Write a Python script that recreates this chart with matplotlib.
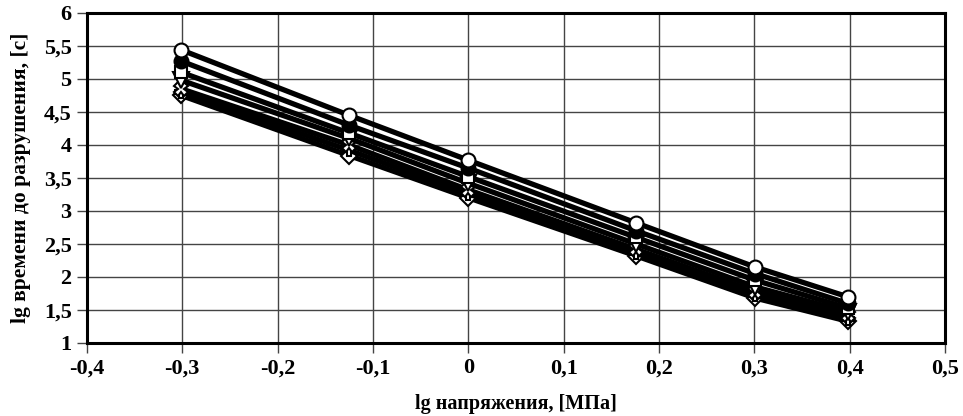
import numpy as np
import matplotlib.pyplot as plt
from matplotlib.ticker import FuncFormatter

# lg of stress levels, MPa
lg_stress = [-0.301, -0.125, 0.0, 0.176, 0.301, 0.398]

# lg of time to failure for each series
s_circle = [5.44, 4.45, 3.77, 2.82, 2.15, 1.70]
s_filled = [5.27, 4.30, 3.65, 2.70, 2.05, 1.60]
s_square = [5.10, 4.18, 3.52, 2.60, 1.95, 1.53]
s_tri = [4.98, 4.10, 3.42, 2.50, 1.85, 1.47]
s_cross = [4.85, 4.00, 3.32, 2.42, 1.78, 1.42]
s_plus = [4.80, 3.92, 3.26, 2.36, 1.72, 1.37]
s_diamond = [4.75, 3.84, 3.20, 2.32, 1.68, 1.33]

plt.rcParams['font.family'] = ['Liberation Serif', 'DejaVu Serif']
plt.rcParams['font.weight'] = 'bold'

fig = plt.figure(figsize=(9.63, 4.16), dpi=100)
ax = fig.add_axes([0.0903, 0.1755, 0.891, 0.7933])

series = [
    (s_diamond, 'D', 'white', 8),
    (s_plus, 'P', 'white', 9),
    (s_cross, 'X', 'white', 10),
    (s_tri, 'v', 'white', 11),
    (s_square, 's', 'white', 9),
    (s_filled, 'o', 'black', 10),
    (s_circle, 'o', 'white', 10),
]
for vals, mk, fc, ms in series:
    ax.plot(lg_stress, vals, color='black', lw=3.8, marker=mk, ms=ms,
            mfc=fc, mec='black', mew=1.5, zorder=3)

ax.set_xlim(-0.4, 0.5)
ax.set_ylim(1, 6)
ax.set_xticks(np.arange(-0.4, 0.51, 0.1))
ax.set_yticks(np.arange(1, 6.01, 0.5))

def comma(v, pos):
    s = f"{v:.1f}".rstrip('0').rstrip('.')
    if s == '-0':
        s = '0'
    return s.replace('.', ',')

ax.xaxis.set_major_formatter(FuncFormatter(comma))
ax.yaxis.set_major_formatter(FuncFormatter(comma))

ax.grid(True, color='#444444', lw=1.0)
ax.set_axisbelow(True)
for sp in ax.spines.values():
    sp.set_linewidth(2.2)
ax.tick_params(direction='out', length=7, width=1.0, color='#444444',
               labelsize=16, pad=4)
for lab in ax.get_xticklabels() + ax.get_yticklabels():
    lab.set_fontweight('bold')

ax.set_xlabel('lg напряжения, [МПа]', fontsize=14.5, fontweight='bold', labelpad=11)
ax.set_ylabel('lg времени до разрушения, [с]', fontsize=15.5, fontweight='bold', labelpad=9)

fig.savefig('out.png', dpi=100)
